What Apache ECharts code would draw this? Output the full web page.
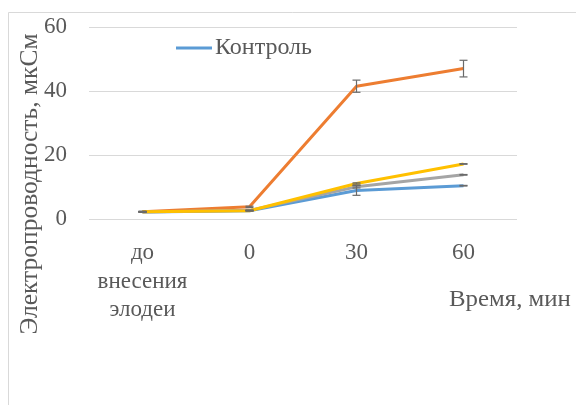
<!DOCTYPE html>
<html>
<head>
<meta charset="utf-8">
<script src="https://cdn.jsdelivr.net/npm/echarts@6/dist/echarts.min.js"></script>
<style>
  html, body { margin: 0; padding: 0; background: #fff; }
  #chart { width: 576px; height: 405px; }
</style>
</head>
<body>
<div id="chart"></div>
<script>
// Time points of the measurement
const categories = ['до\nвнесения\nэлодеи', '0', '30', '60'];

// Conductivity, µS, four variants
const control   = [2.2, 2.6, 8.9, 10.4];
const variant2  = [2.3, 3.8, 41.5, 47.0];
const variant3  = [2.2, 2.7, 10.1, 13.8];
const variant4  = [2.3, 2.6, 11.1, 17.2];

// Standard error for each point
const errControl  = [0.1, 0.1, 1.5, 0.1];
const errVariant2 = [0.1, 0.2, 1.9, 2.6];
const errVariant3 = [0.1, 0.1, 0.4, 0.1];
const errVariant4 = [0.1, 0.1, 0.2, 0.1];

const yTicks = { min: 0, max: 60, interval: 20 };

const FONT = 'Liberation Serif';
const TXT = '#595959';

function errorSeries(values, errs) {
  return {
    type: 'custom',
    silent: true,
    z: 10,
    data: values.map((v, i) => [i, v - errs[i], v + errs[i]]),
    renderItem: function (params, api) {
      const lo = api.coord([api.value(0), api.value(1)]);
      const hi = api.coord([api.value(0), api.value(2)]);
      const w = 4;
      const style = { stroke: '#6a6a6a', lineWidth: 1.2 };
      return {
        type: 'group',
        children: [
          { type: 'line', shape: { x1: lo[0], y1: lo[1], x2: hi[0], y2: hi[1] }, style },
          { type: 'line', shape: { x1: lo[0] - w, y1: lo[1], x2: lo[0] + w, y2: lo[1] }, style },
          { type: 'line', shape: { x1: hi[0] - w, y1: hi[1], x2: hi[0] + w, y2: hi[1] }, style }
        ]
      };
    }
  };
}

function lineSeries(name, values, color, z) {
  return {
    name: name,
    type: 'line',
    data: values,
    symbol: 'none',
    z: z,
    lineStyle: { color: color, width: 3 },
    itemStyle: { color: color }
  };
}

const chart = echarts.init(document.getElementById('chart'), null, { renderer: 'canvas' });

chart.setOption({
  animation: false,
  backgroundColor: '#fff',
  grid: { left: 89, right: 59, top: 27, bottom: 186 },
  legend: {
    data: ['Контроль'],
    left: 171,
    top: 31,
    itemWidth: 36,
    itemHeight: 3,
    itemGap: 0,
    icon: 'rect',
    textStyle: { fontFamily: FONT, fontSize: 24, color: TXT, padding: [0, 0, 0, -2] }
  },
  xAxis: {
    type: 'category',
    data: categories,
    boundaryGap: true,
    axisLine: { show: false },
    axisTick: { show: false },
    axisLabel: {
      fontFamily: FONT, fontSize: 23, color: TXT,
      lineHeight: 28.5, margin: 20, interval: 0
    }
  },
  yAxis: {
    type: 'value',
    min: yTicks.min,
    max: yTicks.max,
    interval: yTicks.interval,
    axisLine: { show: false },
    axisTick: { show: false },
    splitLine: { lineStyle: { color: '#d9d9d9', width: 1 } },
    axisLabel: { fontFamily: FONT, fontSize: 23, color: TXT, margin: 22 }
  },
  graphic: [
    {
      type: 'rect',
      shape: { x: 8.5, y: 12.5, width: 700, height: 500 },
      style: { fill: 'none', stroke: '#d9d9d9', lineWidth: 1 },
      z: -1
    },
    {
      type: 'text',
      x: 30, y: 184,
      rotation: Math.PI / 2,
      style: {
        text: 'Электропроводность, мкСм',
        fontFamily: FONT, fontSize: 25.5, fill: TXT,
        textAlign: 'center', textVerticalAlign: 'middle'
      }
    },
    {
      type: 'text',
      x: 449, y: 300,
      scaleX: 1.08,
      style: {
        text: 'Время, мин',
        fontFamily: FONT, fontSize: 23, fill: TXT,
        textAlign: 'left', textVerticalAlign: 'middle'
      }
    }
  ],
  series: [
    lineSeries('Контроль', control, '#5B9BD5', 2),
    lineSeries('Вариант 2', variant2, '#ED7D31', 3),
    lineSeries('Вариант 3', variant3, '#A5A5A5', 4),
    lineSeries('Вариант 4', variant4, '#FFC000', 5),
    errorSeries(control, errControl),
    errorSeries(variant2, errVariant2),
    errorSeries(variant3, errVariant3),
    errorSeries(variant4, errVariant4)
  ]
});
</script>
</body>
</html>
